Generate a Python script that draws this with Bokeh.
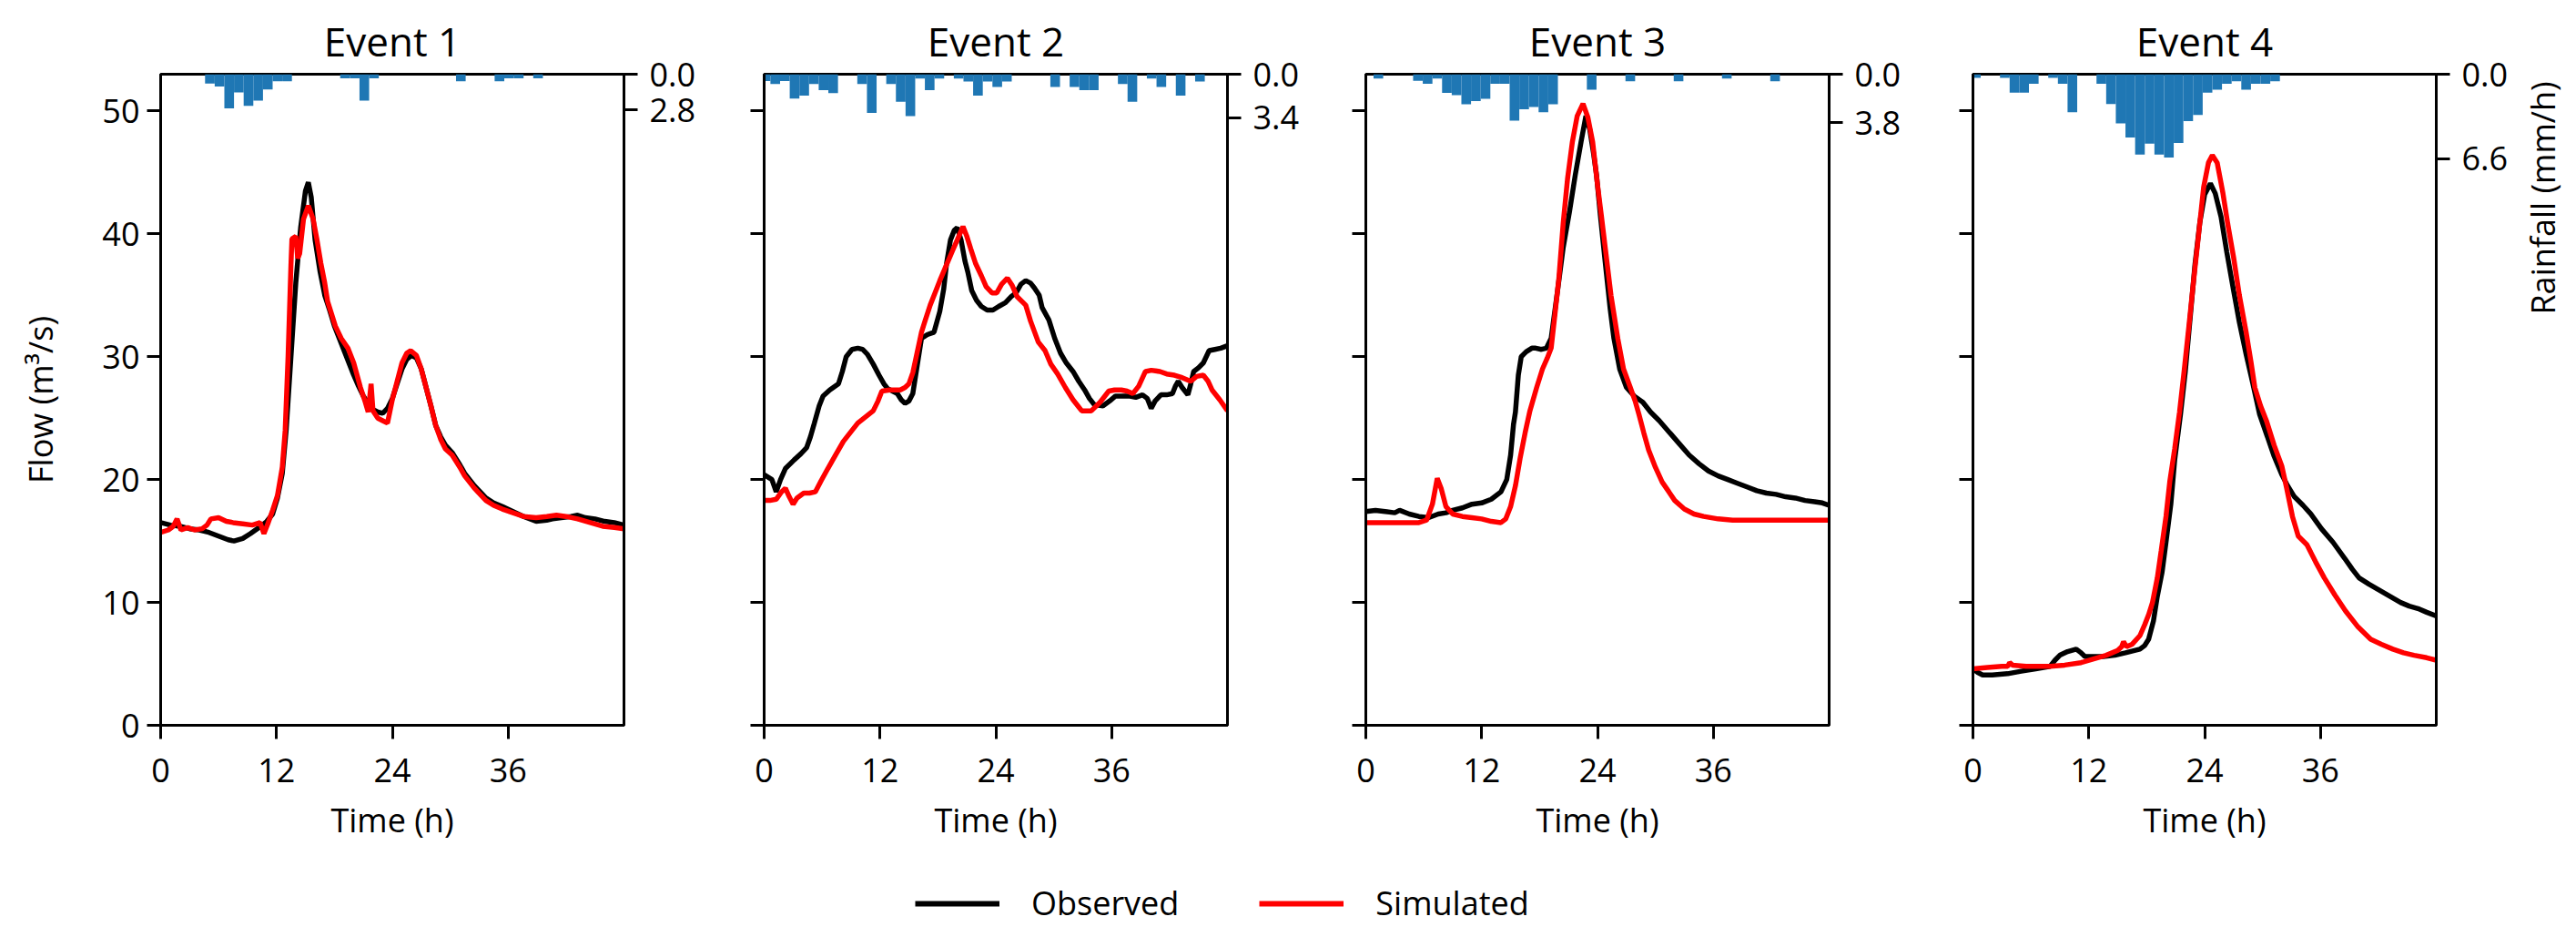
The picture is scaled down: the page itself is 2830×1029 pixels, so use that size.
from bokeh.plotting import figure
from bokeh.models import (Range1d, LinearAxis, FixedTicker, PrintfTickFormatter,
                          Legend, LegendItem)
from bokeh.layouts import row, column
from bokeh.embed import file_html
from bokeh.resources import INLINE

# ---------------- data ----------------
titles = ["Event 1", "Event 2", "Event 3", "Event 4"]
time_ticks = [0, 12, 24, 36]
flow_ticks = [0, 10, 20, 30, 40, 50]
rain_max_ticks = [2.8, 3.4, 3.8, 6.6]

# Event 1
obs_t1 = [0, 1, 2, 3, 4, 5, 6, 7, 7.6, 8.5, 9.3, 10.2, 11, 11.6, 12.1, 12.6, 13, 13.5, 14, 14.5, 15, 15.3, 15.6,
          16, 16.5, 17, 17.5, 18, 18.5, 19, 19.5, 20, 20.5, 21, 21.5, 22, 22.5, 23, 23.5, 24, 24.5, 25, 25.5, 26,
          26.5, 27, 27.5, 28, 28.5, 29, 29.5, 30.2, 31, 31.5, 32.5, 33.7, 34.5, 35.4, 36.5, 37.6, 38.9, 40, 40.6,
          41.5, 42.5, 43.2, 44, 45, 46, 47, 48]
obs_q1 = [16.5, 16.3, 16.2, 16.0, 15.9, 15.7, 15.4, 15.1, 15.0, 15.2, 15.6, 16.1, 16.6, 17.2, 18.5, 20.5, 24, 30,
          36, 40.5, 43.5, 44.2, 43, 39.5, 37, 35, 33.8, 32.5, 31.5, 30.5, 29.5, 28.5, 27.6, 26.8, 26.2, 25.7, 25.5,
          25.4, 25.8, 26.6, 27.8, 29, 29.8, 30.1, 29.9, 29, 27.5, 26, 24.4, 23.5, 22.8, 22.2, 21.2, 20.5, 19.5,
          18.5, 18.1, 17.8, 17.4, 17.0, 16.6, 16.7, 16.8, 16.9, 17.0, 17.1, 16.9, 16.8, 16.6, 16.5, 16.3]
sim_t1 = [0, 0.8, 1.3, 1.7, 2.1, 2.8, 3.5, 4.3, 4.8, 5.2, 6, 6.8, 7.5, 8.5, 9.5, 10.3, 10.7, 11.1, 11.6, 12.1,
          12.6, 12.9, 13.2, 13.5, 13.6, 14.0, 14.2, 14.4, 14.8, 15.3, 15.8, 16.2, 16.6, 17, 17.3, 17.7, 18.1, 18.7,
          19.4, 20, 20.7, 21.2, 21.5, 21.8, 22.0, 22.5, 23, 23.5, 24, 24.5, 25, 25.5, 25.9, 26.5, 27, 27.5, 28,
          28.5, 29, 29.5, 30.2, 31, 31.5, 32.5, 33.7, 34.5, 35.4, 36.5, 37.6, 38.9, 40, 41, 42, 43.2, 44.5, 45.8,
          47, 48]
sim_q1 = [15.7, 15.9, 16.2, 16.8, 15.9, 16.1, 15.9, 16.0, 16.3, 16.8, 16.9, 16.6, 16.5, 16.4, 16.3, 16.5, 15.6,
          16.4, 17.5, 18.7, 21, 24, 30, 37.5, 39.6, 39.8, 38.0, 38.4, 41.2, 42.3, 41.2, 39.5, 37.6, 36, 34.5, 33.5,
          32.5, 31.5, 30.7, 29.5, 27.5, 26.3, 25.5, 27.8, 25.6, 25.0, 24.8, 24.6, 26.5, 28, 29.5, 30.3, 30.5, 30.1,
          29, 27.5, 26, 24.4, 23.3, 22.5, 22.0, 21.0, 20.3, 19.3, 18.3, 17.9, 17.6, 17.3, 17.0, 16.9, 17.0, 17.1,
          17.0, 16.8, 16.5, 16.2, 16.1, 16.0]
rain_start1 = [4.6, 5.6, 6.6, 7.6, 8.6, 9.6, 10.6, 11.6, 12.6, 18.6, 19.6, 20.6, 21.6, 30.6, 34.6, 35.6, 36.6, 38.6]
rain_val1 = [0.73, 0.96, 2.68, 1.42, 2.48, 2.06, 1.19, 0.55, 0.55, 0.32, 0.32, 2.06, 0.32, 0.55, 0.55, 0.32, 0.32,
             0.32]

# Event 2
obs_t2 = [0, 0.8, 1.25, 1.7, 2.2, 3.1, 3.8, 4.4, 4.8, 5.2, 5.7, 6.1, 6.8, 7.7, 8.1, 8.5, 9.1, 9.7, 10.2, 10.7,
          11.3, 11.9, 12.4, 12.8, 13.3, 13.8, 14.2, 14.6, 15.0, 15.4, 15.8, 16.3, 16.9, 17.6, 18.2, 18.6, 18.9,
          19.3, 19.7, 20.0, 20.4, 20.8, 21.1, 21.5, 22.0, 22.5, 23.1, 23.7, 24.3, 25.0, 25.6, 26.1, 26.6, 27.1,
          27.6, 28.0, 28.5, 28.8, 29.5, 30.1, 30.7, 31.3, 32.0, 32.6, 33.2, 33.7, 34.2, 35.1, 35.8, 36.4, 37.2,
          37.9, 38.5, 39.2, 39.7, 40.1, 40.5, 41.1, 41.7, 42.3, 42.6, 42.9, 43.3, 43.9, 44.2, 44.5, 45.0, 45.5,
          46.1, 46.7, 47.3, 48]
obs_q2 = [20.4, 20.0, 19.0, 20.0, 20.9, 21.6, 22.1, 22.6, 23.5, 24.6, 26.0, 26.8, 27.3, 27.8, 28.8, 30.0, 30.6,
          30.7, 30.6, 30.2, 29.4, 28.5, 27.8, 27.4, 27.2, 27.0, 26.5, 26.2, 26.4, 27.0, 29.0, 31.5, 31.8, 32.0,
          33.7, 35.5, 37.6, 39.5, 40.3, 40.5, 39.5, 37.8, 36.9, 35.4, 34.6, 34.1, 33.8, 33.8, 34.1, 34.4, 34.9,
          35.2, 35.9, 36.2, 36.0, 35.6, 35.0, 34.0, 33.0, 31.5, 30.3, 29.5, 28.8, 28.0, 27.3, 26.6, 26.1, 26.0,
          26.4, 26.8, 26.8, 26.8, 26.7, 26.9, 26.6, 25.8, 26.4, 26.9, 26.9, 27.0, 27.6, 28.0, 27.5, 26.9, 27.8,
          28.8, 29.1, 29.5, 30.5, 30.6, 30.7, 30.9]
sim_t2 = [0, 0.6, 1.25, 1.8, 2.2, 2.6, 3.0, 3.4, 4.1, 4.7, 5.3, 5.9, 6.6, 7.4, 8.2, 8.9, 9.7, 10.5, 11.3, 11.8,
          12.2, 13.0, 14.1, 14.6, 15.0, 15.4, 15.7, 16.3, 16.7, 17.2, 17.7, 18.2, 18.9, 19.5, 20.0, 20.6, 21.0,
          21.4, 21.9, 22.5, 23.0, 23.6, 24.1, 24.6, 25.2, 25.7, 26.2, 27.1, 27.6, 28.4, 29.1, 29.7, 30.4, 31.2,
          32.0, 32.5, 32.9, 33.9, 34.8, 35.7, 36.3, 37.0, 37.6, 38.2, 38.8, 39.5, 40.1, 41.0, 41.7, 42.5, 43.3,
          44.2, 44.8, 45.5, 46.0, 46.4, 47.2, 48]
sim_q2 = [18.3, 18.3, 18.4, 19.0, 19.3, 18.6, 18.0, 18.5, 18.9, 18.9, 19.0, 19.9, 20.9, 22.0, 23.1, 23.8, 24.6,
          25.1, 25.6, 26.4, 27.2, 27.3, 27.3, 27.5, 27.8, 28.7, 29.8, 32.0, 33.0, 34.2, 35.2, 36.2, 37.5, 38.6,
          39.5, 40.6, 39.8, 38.8, 37.6, 36.6, 35.7, 35.2, 35.2, 35.9, 36.4, 35.8, 34.9, 34.2, 32.9, 31.2, 30.5,
          29.4, 28.6, 27.5, 26.5, 26.0, 25.6, 25.6, 26.3, 27.2, 27.3, 27.3, 27.2, 27.0, 27.6, 28.8, 28.9, 28.8,
          28.6, 28.5, 28.3, 28.0, 28.4, 28.5, 28.0, 27.3, 26.5, 25.6]
rain_start2 = [-0.35, 0.65, 1.65, 2.65, 3.65, 4.65, 5.65, 6.65, 9.65, 10.65, 12.65, 13.65, 14.65, 15.65, 16.65,
               17.65, 19.65, 20.65, 21.65, 22.65, 23.65, 24.65, 29.65, 31.65, 32.65, 33.65, 36.65, 37.65, 39.65,
               40.65, 42.65, 44.65]
rain_val2 = [0.53, 0.77, 0.53, 1.91, 1.67, 0.77, 1.24, 1.48, 0.77, 3.04, 0.77, 2.15, 3.28, 0.33, 1.24, 0.33, 0.33,
             0.57, 1.67, 0.57, 1.0, 0.57, 1.0, 1.0, 1.24, 1.24, 0.77, 2.15, 0.33, 1.0, 1.67, 0.57]

# Event 3
obs_t3 = [0, 1, 2, 3, 3.5, 4.5, 5.5, 6.5, 7.5, 8.3, 9, 10, 11, 12, 13, 14, 14.6, 15.0, 15.3, 15.5, 15.8, 16.1,
          16.6, 17.2, 17.6, 18.2, 18.7, 19.2, 19.8, 20.45, 21.1, 21.7, 22.3, 22.8, 23.2, 23.6, 23.9, 24.3, 24.8,
          25.3, 25.7, 26.3, 27.0, 27.8, 28.7, 29.5, 30.4, 31.5, 32.5, 33.5, 34.5, 35.5, 36.5, 37.5, 38.5, 39.5,
          40.5, 41.5, 42.5, 43.5, 44.5, 45.5, 46.5, 47.3, 48]
obs_q3 = [17.4, 17.5, 17.4, 17.3, 17.5, 17.2, 17.0, 16.9, 17.2, 17.3, 17.5, 17.7, 18.0, 18.1, 18.4, 19.0, 20.0,
          22.0, 24.5, 25.5, 28.5, 30.0, 30.4, 30.7, 30.7, 30.6, 30.7, 31.5, 35.0, 38.9, 41.8, 44.8, 47.5, 49.6,
          48.5, 46.5, 44.8, 41.5, 37.7, 34.0, 31.5, 29.0, 27.5, 26.8, 26.3, 25.5, 24.8, 23.8, 22.9, 22.0, 21.3,
          20.7, 20.3, 20.0, 19.7, 19.4, 19.1, 18.9, 18.8, 18.6, 18.5, 18.3, 18.2, 18.1, 17.9]
sim_t3 = [0, 2, 4, 5.5, 6.3, 6.9, 7.4, 7.8, 8.3, 9.0, 10, 11, 12, 13, 14, 14.5, 15.0, 15.5, 16.0, 16.5, 17.0,
          17.7, 18.3, 18.8, 19.2, 19.6, 20.0, 20.45, 20.9, 21.4, 21.9, 22.5, 23.0, 23.5, 24.0, 24.4, 24.8, 25.4,
          26.1, 26.7, 27.4, 27.9, 28.3, 28.8, 29.3, 30.0, 30.7, 31.4, 32.0, 33.0, 34.0, 35.0, 36.5, 38, 40, 44, 48]
sim_q3 = [16.5, 16.5, 16.5, 16.5, 16.7, 18.0, 20.1, 19.3, 17.8, 17.2, 17.0, 16.9, 16.8, 16.6, 16.5, 16.8, 17.8,
          19.5, 21.8, 23.8, 25.6, 27.5, 29.0, 29.9, 30.7, 33.5, 36.4, 40.9, 44.5, 47.5, 49.6, 50.6, 49.5, 47.5,
          44.0, 41.5, 38.9, 35.0, 31.5, 29.0, 27.5, 26.4, 25.3, 23.8, 22.4, 21.0, 19.8, 19.0, 18.3, 17.6, 17.2,
          17.0, 16.8, 16.7, 16.7, 16.7, 16.7]
rain_start3 = [0.8, 4.9, 5.9, 6.9, 7.9, 8.9, 9.9, 10.9, 11.9, 12.9, 13.9, 14.9, 15.9, 16.9, 17.9, 18.9, 22.9, 26.9,
               31.9, 36.9, 41.9]
rain_val3 = [0.33, 0.52, 0.75, 0.33, 1.46, 1.64, 2.35, 2.11, 1.92, 0.75, 0.75, 3.64, 2.75, 2.56, 2.98, 2.35, 1.22,
             0.56, 0.56, 0.33, 0.56]

# Event 4
obs_t4 = [0, 0.5, 1, 2, 3.6, 5, 6.5, 8, 8.5, 9, 9.8, 10.7, 11.2, 11.6, 12.5, 13.5, 14.7, 15.8, 17.3, 17.8, 18.2,
          18.7, 19.1, 19.6, 20.0, 20.5, 20.9, 21.5, 22.0, 22.6, 23.0, 23.5, 24.0, 24.6, 25.1, 25.7, 26.3, 27.0,
          27.6, 28.3, 29.0, 29.7, 30.5, 31.2, 32.0, 32.6, 33.3, 34.2, 35.0, 36.1, 37.3, 38.5, 39.3, 40.0, 41.0,
          42.1, 43.2, 44.3, 45.2, 46.1, 47.0, 48.0]
obs_q4 = [4.6, 4.3, 4.1, 4.1, 4.2, 4.4, 4.6, 4.8, 5.3, 5.7, 6.0, 6.2, 5.9, 5.6, 5.6, 5.6, 5.7, 5.9, 6.2, 6.5, 7.0,
          8.5, 10.5, 12.5, 14.9, 18.0, 21.6, 25.3, 28.8, 34.0, 37.5, 40.9, 43.2, 44.1, 43.3, 41.4, 38.5, 35.4,
          32.8, 30.2, 27.8, 25.3, 23.5, 21.9, 20.4, 19.5, 18.6, 17.9, 17.2, 16.0, 14.9, 13.6, 12.7, 12.0, 11.5,
          11.0, 10.5, 10.0, 9.7, 9.5, 9.2, 8.9]
sim_t4 = [0, 1.5, 3.0, 3.6, 3.8, 4.1, 5.5, 6.7, 8.0, 9.5, 11.2, 12.5, 13.8, 15.0, 15.4, 15.6, 15.9, 16.5, 17.3,
          17.8, 18.2, 18.6, 19.1, 19.5, 20.0, 20.4, 20.9, 21.4, 21.9, 22.4, 22.9, 23.3, 23.9, 24.4, 24.8, 25.3,
          25.9, 26.4, 27.0, 27.6, 28.3, 28.8, 29.2, 29.8, 30.4, 31.2, 32.0, 32.5, 33.1, 33.7, 34.6, 35.5, 36.4,
          37.5, 38.6, 39.9, 41.2, 42.3, 43.5, 44.6, 45.7, 47.0, 48.0]
sim_q4 = [4.6, 4.7, 4.8, 4.8, 5.1, 4.9, 4.8, 4.8, 4.8, 4.9, 5.1, 5.4, 5.7, 6.1, 6.4, 6.8, 6.4, 6.6, 7.3, 8.2, 9.0,
          10.0, 12.0, 14.2, 17.0, 19.9, 22.5, 25.5, 29.0, 32.7, 36.5, 39.4, 43.8, 45.8, 46.4, 45.8, 43.3, 40.8,
          38.1, 35.0, 32.0, 29.6, 27.5, 26.0, 24.8, 22.8, 21.1, 19.3, 17.0, 15.4, 14.7, 13.3, 12.0, 10.6, 9.3,
          8.0, 7.0, 6.6, 6.2, 5.9, 5.7, 5.5, 5.3]
rain_start4 = [-0.2, 2.8, 3.8, 4.8, 5.8, 7.8, 8.8, 9.8, 12.8, 13.8, 14.8, 15.8, 16.8, 17.8, 18.8, 19.8, 20.8,
               21.8, 22.8, 23.8, 24.8, 25.8, 26.8, 27.8, 28.8, 29.8, 30.8]
rain_val4 = [0.28, 0.28, 1.45, 1.45, 0.75, 0.28, 0.75, 2.97, 0.75, 2.34, 3.86, 4.96, 6.3, 5.43, 6.3, 6.53, 5.39,
             3.68, 3.2, 1.45, 1.22, 0.75, 0.56, 1.22, 0.75, 0.75, 0.56]

obs_t = [obs_t1, obs_t2, obs_t3, obs_t4]
obs_q = [obs_q1, obs_q2, obs_q3, obs_q4]
sim_t = [sim_t1, sim_t2, sim_t3, sim_t4]
sim_q = [sim_q1, sim_q2, sim_q3, sim_q4]
rain_start = [rain_start1, rain_start2, rain_start3, rain_start4]
rain_val = [rain_val1, rain_val2, rain_val3, rain_val4]

# ---------------- styling ----------------
FONT = "Open Sans"
FRAME_W, FRAME_H = 509, 715
TOP, BOTTOM = 65, 150
borders = [(176, 115), (39, 117), (35, 116), (42, 85)]
LW = 5.5
LEGEND_H = 79


def style_axis(ax, label_standoff=8):
    ax.axis_line_width = 3
    ax.axis_line_color = "black"
    ax.major_tick_line_width = 3
    ax.major_tick_line_color = "black"
    ax.major_tick_out = 15
    ax.major_tick_in = 0
    ax.minor_tick_line_color = None
    ax.major_label_text_font = FONT
    ax.major_label_text_font_size = "36px"
    ax.major_label_text_color = "black"
    ax.major_label_standoff = label_standoff
    ax.axis_label_text_font = FONT
    ax.axis_label_text_font_size = "36px"
    ax.axis_label_text_font_style = "normal"
    ax.axis_label_text_color = "black"


figs = []
for i in range(4):
    bl, br = borders[i]
    p = figure(frame_width=FRAME_W, frame_height=FRAME_H,
               min_border_left=bl, min_border_right=br,
               min_border_top=TOP, min_border_bottom=BOTTOM,
               x_range=Range1d(0, 48), y_range=Range1d(0, 53),
               output_backend="svg", toolbar_location=None, title=titles[i])
    p.title.text_font = FONT
    p.title.text_font_size = "44px"
    p.title.text_font_style = "normal"
    p.title.text_color = "black"
    p.title.align = "center"
    p.title.standoff = 13
    p.grid.visible = False
    p.outline_line_color = "black"
    p.outline_line_width = 3
    p.background_fill_color = "white"
    p.border_fill_color = "white"

    p.extra_y_ranges = {"rain": Range1d(start=51, end=0)}

    p.xaxis.ticker = FixedTicker(ticks=time_ticks)
    p.yaxis.ticker = FixedTicker(ticks=flow_ticks)
    style_axis(p.xaxis[0], label_standoff=21)
    style_axis(p.yaxis[0], label_standoff=8)
    p.xaxis.axis_label = "Time (h)"
    p.xaxis.axis_label_standoff = 14
    if i == 0:
        p.yaxis.axis_label = "Flow (m³/s)"
        p.yaxis.axis_label_standoff = 40
    else:
        p.yaxis.major_label_overrides = {v: "" for v in flow_ticks}

    rax = LinearAxis(y_range_name="rain",
                     ticker=FixedTicker(ticks=[0, rain_max_ticks[i]]),
                     formatter=PrintfTickFormatter(format="%.1f"))
    style_axis(rax, label_standoff=13)
    p.add_layout(rax, "right")

    right_edges = [s + 1 for s in rain_start[i]]
    p.quad(left=rain_start[i], right=right_edges, top=0, bottom=rain_val[i],
           y_range_name="rain", fill_color="#1f77b4", line_color=None)

    p.line(obs_t[i], obs_q[i], line_color="black", line_width=LW)
    p.line(sim_t[i], sim_q[i], line_color="red", line_width=LW)
    figs.append(p)

# narrow strip holding the rainfall axis title (upper part of the right side)
ROW_H = TOP + FRAME_H + BOTTOM
used_w = sum(b[0] + FRAME_W + b[1] for b in borders)
lab_w = 2830 - used_w
LAB_TOP, LAB_H = 81, 272
rf = figure(frame_width=lab_w - 59, frame_height=LAB_H,
            min_border_left=59, min_border_right=0,
            min_border_top=LAB_TOP, min_border_bottom=ROW_H - LAB_TOP - LAB_H,
            x_range=Range1d(0, 1), y_range=Range1d(0, 1),
            x_axis_type=None, y_axis_location="left", output_backend="svg",
            toolbar_location=None)
rf.grid.visible = False
rf.outline_line_color = None
rf.yaxis.ticker = FixedTicker(ticks=[])
rf.yaxis.axis_line_color = None
rf.yaxis.major_tick_line_color = None
rf.yaxis.minor_tick_line_color = None
rf.yaxis.major_tick_out = 0
rf.yaxis.axis_label = "Rainfall (mm/h)"
rf.yaxis.axis_label_standoff = 3
rf.yaxis.axis_label_text_font = FONT
rf.yaxis.axis_label_text_font_size = "36px"
rf.yaxis.axis_label_text_font_style = "normal"
rf.yaxis.axis_label_text_color = "black"

# legend strip
lf = figure(width=2830, height=LEGEND_H, x_range=Range1d(0, 1), y_range=Range1d(0, 1),
            x_axis_type=None, y_axis_type=None, output_backend="svg",
            toolbar_location=None, min_border=0)
lf.grid.visible = False
lf.outline_line_color = None
r1 = lf.line(x=[-5, -4], y=[-5, -4], line_color="black", line_width=6)
r2 = lf.line(x=[-5, -4], y=[-5, -4], line_color="red", line_width=6)
leg = Legend(items=[LegendItem(label="Observed", renderers=[r1]),
                    LegendItem(label="Simulated", renderers=[r2])],
             orientation="horizontal", location=(1005, 3),
             glyph_width=93, glyph_height=40, label_standoff=35, spacing=88,
             padding=0, margin=0, label_text_font=FONT, label_text_font_size="36px",
             label_text_color="black", label_height=40,
             border_line_color=None, background_fill_alpha=0)
lf.add_layout(leg)

layout = column(row(*figs, rf), lf)
open("out.html", "w").write(file_html(layout, INLINE))
